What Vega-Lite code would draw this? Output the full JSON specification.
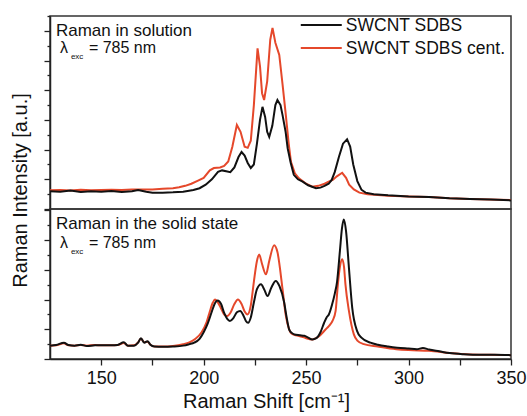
{
  "$schema": "https://vega.github.io/schema/vega-lite/v6.json",
  "padding": {"left": 9, "top": 14, "right": 3, "bottom": 2},
  "background": "white",
  "spacing": 0,
  "bounds": "flush",
  "config": {
    "font": "Liberation Sans",
    "view": {"stroke": "#333333", "strokeWidth": 1.5},
    "axis": {"grid": false, "domainColor": "#222222", "tickColor": "#222222", "domainWidth": 1.5, "tickWidth": 1.3, "labelColor": "#111111", "titleColor": "#111111", "labelFont": "Liberation Sans", "titleFont": "Liberation Sans", "titleFontWeight": "normal"},
    "text": {"font": "Liberation Sans", "color": "#111111", "align": "left", "baseline": "alphabetic"}
  },
  "datasets": {
    "top": [
      {"s":"SWCNT SDBS cent.","x":125,"y":0.63},{"s":"SWCNT SDBS cent.","x":130,"y":0.64},{"s":"SWCNT SDBS cent.","x":135,"y":0.62},{"s":"SWCNT SDBS cent.","x":140,"y":0.65},{"s":"SWCNT SDBS cent.","x":145,"y":0.63},{"s":"SWCNT SDBS cent.","x":150,"y":0.64},{"s":"SWCNT SDBS cent.","x":155,"y":0.65},{"s":"SWCNT SDBS cent.","x":160,"y":0.64},{"s":"SWCNT SDBS cent.","x":165,"y":0.66},{"s":"SWCNT SDBS cent.","x":170,"y":0.66},{"s":"SWCNT SDBS cent.","x":175,"y":0.66},{"s":"SWCNT SDBS cent.","x":180,"y":0.68},{"s":"SWCNT SDBS cent.","x":185,"y":0.7},{"s":"SWCNT SDBS cent.","x":188,"y":0.73},{"s":"SWCNT SDBS cent.","x":191,"y":0.78},{"s":"SWCNT SDBS cent.","x":194,"y":0.85},{"s":"SWCNT SDBS cent.","x":197,"y":0.95},{"s":"SWCNT SDBS cent.","x":200,"y":1.05},{"s":"SWCNT SDBS cent.","x":203,"y":1.3},{"s":"SWCNT SDBS cent.","x":205,"y":1.38},{"s":"SWCNT SDBS cent.","x":208,"y":1.4},{"s":"SWCNT SDBS cent.","x":210,"y":1.45},{"s":"SWCNT SDBS cent.","x":212,"y":1.6},{"s":"SWCNT SDBS cent.","x":214,"y":2.1},{"s":"SWCNT SDBS cent.","x":216.2,"y":2.83},{"s":"SWCNT SDBS cent.","x":218,"y":2.6},{"s":"SWCNT SDBS cent.","x":220,"y":2.1},{"s":"SWCNT SDBS cent.","x":221.5,"y":2.06},{"s":"SWCNT SDBS cent.","x":223,"y":2.3},{"s":"SWCNT SDBS cent.","x":224.5,"y":3.5},{"s":"SWCNT SDBS cent.","x":226.3,"y":5.41},{"s":"SWCNT SDBS cent.","x":227.5,"y":4.8},{"s":"SWCNT SDBS cent.","x":228.5,"y":3.9},{"s":"SWCNT SDBS cent.","x":229.5,"y":3.67},{"s":"SWCNT SDBS cent.","x":231,"y":4.3},{"s":"SWCNT SDBS cent.","x":232.5,"y":5.7},{"s":"SWCNT SDBS cent.","x":233.6,"y":6.1},{"s":"SWCNT SDBS cent.","x":235,"y":5.6},{"s":"SWCNT SDBS cent.","x":236.9,"y":5.19},{"s":"SWCNT SDBS cent.","x":238.5,"y":4.2},{"s":"SWCNT SDBS cent.","x":240.1,"y":3.16},{"s":"SWCNT SDBS cent.","x":241.5,"y":2.2},{"s":"SWCNT SDBS cent.","x":242.6,"y":1.59},{"s":"SWCNT SDBS cent.","x":244.5,"y":1.2},{"s":"SWCNT SDBS cent.","x":246.5,"y":1.03},{"s":"SWCNT SDBS cent.","x":250,"y":0.85},{"s":"SWCNT SDBS cent.","x":253,"y":0.75},{"s":"SWCNT SDBS cent.","x":256,"y":0.78},{"s":"SWCNT SDBS cent.","x":259,"y":0.85},{"s":"SWCNT SDBS cent.","x":261,"y":0.92},{"s":"SWCNT SDBS cent.","x":263,"y":0.98},{"s":"SWCNT SDBS cent.","x":265,"y":1.1},{"s":"SWCNT SDBS cent.","x":267.6,"y":1.22},{"s":"SWCNT SDBS cent.","x":269.5,"y":1.05},{"s":"SWCNT SDBS cent.","x":271,"y":0.82},{"s":"SWCNT SDBS cent.","x":273.3,"y":0.66},{"s":"SWCNT SDBS cent.","x":276,"y":0.55},{"s":"SWCNT SDBS cent.","x":280,"y":0.5},{"s":"SWCNT SDBS cent.","x":290,"y":0.45},{"s":"SWCNT SDBS cent.","x":300,"y":0.42},{"s":"SWCNT SDBS cent.","x":310,"y":0.4},{"s":"SWCNT SDBS cent.","x":320,"y":0.36},{"s":"SWCNT SDBS cent.","x":330,"y":0.34},{"s":"SWCNT SDBS cent.","x":340,"y":0.32},{"s":"SWCNT SDBS cent.","x":350,"y":0.3},
      {"s":"SWCNT SDBS","x":125,"y":0.6},{"s":"SWCNT SDBS","x":130,"y":0.58},{"s":"SWCNT SDBS","x":135,"y":0.62},{"s":"SWCNT SDBS","x":140,"y":0.57},{"s":"SWCNT SDBS","x":145,"y":0.6},{"s":"SWCNT SDBS","x":150,"y":0.58},{"s":"SWCNT SDBS","x":155,"y":0.61},{"s":"SWCNT SDBS","x":160,"y":0.57},{"s":"SWCNT SDBS","x":165,"y":0.6},{"s":"SWCNT SDBS","x":168,"y":0.64},{"s":"SWCNT SDBS","x":172,"y":0.58},{"s":"SWCNT SDBS","x":175,"y":0.55},{"s":"SWCNT SDBS","x":180,"y":0.55},{"s":"SWCNT SDBS","x":185,"y":0.56},{"s":"SWCNT SDBS","x":190,"y":0.58},{"s":"SWCNT SDBS","x":195,"y":0.64},{"s":"SWCNT SDBS","x":198,"y":0.7},{"s":"SWCNT SDBS","x":201,"y":0.82},{"s":"SWCNT SDBS","x":204,"y":1.0},{"s":"SWCNT SDBS","x":207,"y":1.25},{"s":"SWCNT SDBS","x":209,"y":1.3},{"s":"SWCNT SDBS","x":211,"y":1.27},{"s":"SWCNT SDBS","x":213,"y":1.24},{"s":"SWCNT SDBS","x":215,"y":1.4},{"s":"SWCNT SDBS","x":217,"y":1.75},{"s":"SWCNT SDBS","x":218.5,"y":1.92},{"s":"SWCNT SDBS","x":220,"y":1.8},{"s":"SWCNT SDBS","x":221.5,"y":1.55},{"s":"SWCNT SDBS","x":223,"y":1.38},{"s":"SWCNT SDBS","x":224.5,"y":1.5},{"s":"SWCNT SDBS","x":226,"y":2.2},{"s":"SWCNT SDBS","x":227.5,"y":3.0},{"s":"SWCNT SDBS","x":228.7,"y":3.44},{"s":"SWCNT SDBS","x":230,"y":3.1},{"s":"SWCNT SDBS","x":231,"y":2.6},{"s":"SWCNT SDBS","x":232,"y":2.43},{"s":"SWCNT SDBS","x":233.5,"y":2.8},{"s":"SWCNT SDBS","x":235,"y":3.5},{"s":"SWCNT SDBS","x":236,"y":3.67},{"s":"SWCNT SDBS","x":237.5,"y":3.5},{"s":"SWCNT SDBS","x":238.5,"y":3.16},{"s":"SWCNT SDBS","x":240,"y":2.6},{"s":"SWCNT SDBS","x":241,"y":2.04},{"s":"SWCNT SDBS","x":242.5,"y":1.55},{"s":"SWCNT SDBS","x":244,"y":1.15},{"s":"SWCNT SDBS","x":246,"y":1.0},{"s":"SWCNT SDBS","x":248.3,"y":0.92},{"s":"SWCNT SDBS","x":251,"y":0.8},{"s":"SWCNT SDBS","x":254.8,"y":0.7},{"s":"SWCNT SDBS","x":257,"y":0.72},{"s":"SWCNT SDBS","x":259,"y":0.78},{"s":"SWCNT SDBS","x":261,"y":0.85},{"s":"SWCNT SDBS","x":262.5,"y":0.98},{"s":"SWCNT SDBS","x":264,"y":1.25},{"s":"SWCNT SDBS","x":266,"y":1.75},{"s":"SWCNT SDBS","x":268,"y":2.2},{"s":"SWCNT SDBS","x":270,"y":2.35},{"s":"SWCNT SDBS","x":271.5,"y":2.1},{"s":"SWCNT SDBS","x":273,"y":1.5},{"s":"SWCNT SDBS","x":275,"y":0.94},{"s":"SWCNT SDBS","x":277,"y":0.65},{"s":"SWCNT SDBS","x":279,"y":0.55},{"s":"SWCNT SDBS","x":283,"y":0.5},{"s":"SWCNT SDBS","x":290,"y":0.46},{"s":"SWCNT SDBS","x":300,"y":0.42},{"s":"SWCNT SDBS","x":310,"y":0.4},{"s":"SWCNT SDBS","x":320,"y":0.36},{"s":"SWCNT SDBS","x":330,"y":0.34},{"s":"SWCNT SDBS","x":340,"y":0.32},{"s":"SWCNT SDBS","x":350,"y":0.29}
    ],
    "bottom": [
      {"s":"SWCNT SDBS cent.","x":125,"y":0.45},{"s":"SWCNT SDBS cent.","x":128,"y":0.46},{"s":"SWCNT SDBS cent.","x":131.8,"y":0.53},{"s":"SWCNT SDBS cent.","x":134,"y":0.46},{"s":"SWCNT SDBS cent.","x":137,"y":0.45},{"s":"SWCNT SDBS cent.","x":140,"y":0.47},{"s":"SWCNT SDBS cent.","x":143,"y":0.45},{"s":"SWCNT SDBS cent.","x":147,"y":0.47},{"s":"SWCNT SDBS cent.","x":150,"y":0.46},{"s":"SWCNT SDBS cent.","x":155,"y":0.46},{"s":"SWCNT SDBS cent.","x":158,"y":0.47},{"s":"SWCNT SDBS cent.","x":161,"y":0.54},{"s":"SWCNT SDBS cent.","x":163,"y":0.45},{"s":"SWCNT SDBS cent.","x":166,"y":0.46},{"s":"SWCNT SDBS cent.","x":168,"y":0.56},{"s":"SWCNT SDBS cent.","x":169.4,"y":0.68},{"s":"SWCNT SDBS cent.","x":171,"y":0.56},{"s":"SWCNT SDBS cent.","x":172.6,"y":0.58},{"s":"SWCNT SDBS cent.","x":174,"y":0.48},{"s":"SWCNT SDBS cent.","x":176,"y":0.42},{"s":"SWCNT SDBS cent.","x":180,"y":0.42},{"s":"SWCNT SDBS cent.","x":185,"y":0.44},{"s":"SWCNT SDBS cent.","x":190,"y":0.5},{"s":"SWCNT SDBS cent.","x":193,"y":0.56},{"s":"SWCNT SDBS cent.","x":196,"y":0.68},{"s":"SWCNT SDBS cent.","x":199,"y":0.9},{"s":"SWCNT SDBS cent.","x":201.5,"y":1.25},{"s":"SWCNT SDBS cent.","x":203,"y":1.6},{"s":"SWCNT SDBS cent.","x":204.5,"y":1.9},{"s":"SWCNT SDBS cent.","x":205.5,"y":2.0},{"s":"SWCNT SDBS cent.","x":207,"y":1.9},{"s":"SWCNT SDBS cent.","x":208.5,"y":1.7},{"s":"SWCNT SDBS cent.","x":210,"y":1.5},{"s":"SWCNT SDBS cent.","x":211.5,"y":1.45},{"s":"SWCNT SDBS cent.","x":213,"y":1.55},{"s":"SWCNT SDBS cent.","x":215,"y":1.85},{"s":"SWCNT SDBS cent.","x":216.7,"y":2.0},{"s":"SWCNT SDBS cent.","x":218.5,"y":1.85},{"s":"SWCNT SDBS cent.","x":220,"y":1.6},{"s":"SWCNT SDBS cent.","x":221.4,"y":1.5},{"s":"SWCNT SDBS cent.","x":223,"y":1.8},{"s":"SWCNT SDBS cent.","x":224.5,"y":2.6},{"s":"SWCNT SDBS cent.","x":226,"y":3.3},{"s":"SWCNT SDBS cent.","x":227.1,"y":3.52},{"s":"SWCNT SDBS cent.","x":228.5,"y":3.2},{"s":"SWCNT SDBS cent.","x":230.4,"y":2.85},{"s":"SWCNT SDBS cent.","x":232,"y":3.3},{"s":"SWCNT SDBS cent.","x":234.4,"y":3.83},{"s":"SWCNT SDBS cent.","x":236,"y":3.6},{"s":"SWCNT SDBS cent.","x":238.5,"y":2.35},{"s":"SWCNT SDBS cent.","x":240,"y":1.5},{"s":"SWCNT SDBS cent.","x":241.7,"y":1.0},{"s":"SWCNT SDBS cent.","x":243,"y":0.85},{"s":"SWCNT SDBS cent.","x":245,"y":0.8},{"s":"SWCNT SDBS cent.","x":248,"y":0.75},{"s":"SWCNT SDBS cent.","x":250,"y":0.7},{"s":"SWCNT SDBS cent.","x":253.1,"y":0.66},{"s":"SWCNT SDBS cent.","x":256,"y":0.75},{"s":"SWCNT SDBS cent.","x":259.6,"y":1.0},{"s":"SWCNT SDBS cent.","x":261,"y":1.1},{"s":"SWCNT SDBS cent.","x":263,"y":1.3},{"s":"SWCNT SDBS cent.","x":264.4,"y":1.62},{"s":"SWCNT SDBS cent.","x":265.5,"y":2.51},{"s":"SWCNT SDBS cent.","x":266.5,"y":3.1},{"s":"SWCNT SDBS cent.","x":267.6,"y":3.36},{"s":"SWCNT SDBS cent.","x":268.5,"y":3.1},{"s":"SWCNT SDBS cent.","x":269.2,"y":2.51},{"s":"SWCNT SDBS cent.","x":270.9,"y":1.62},{"s":"SWCNT SDBS cent.","x":273.3,"y":0.83},{"s":"SWCNT SDBS cent.","x":275,"y":0.62},{"s":"SWCNT SDBS cent.","x":278.2,"y":0.5},{"s":"SWCNT SDBS cent.","x":285,"y":0.42},{"s":"SWCNT SDBS cent.","x":294,"y":0.33},{"s":"SWCNT SDBS cent.","x":300,"y":0.3},{"s":"SWCNT SDBS cent.","x":310,"y":0.28},{"s":"SWCNT SDBS cent.","x":320,"y":0.2},{"s":"SWCNT SDBS cent.","x":330,"y":0.15},{"s":"SWCNT SDBS cent.","x":340,"y":0.14},{"s":"SWCNT SDBS cent.","x":350,"y":0.13},
      {"s":"SWCNT SDBS","x":125,"y":0.45},{"s":"SWCNT SDBS","x":128,"y":0.47},{"s":"SWCNT SDBS","x":131.8,"y":0.55},{"s":"SWCNT SDBS","x":134,"y":0.47},{"s":"SWCNT SDBS","x":137,"y":0.45},{"s":"SWCNT SDBS","x":140,"y":0.48},{"s":"SWCNT SDBS","x":143,"y":0.44},{"s":"SWCNT SDBS","x":147,"y":0.46},{"s":"SWCNT SDBS","x":150,"y":0.46},{"s":"SWCNT SDBS","x":155,"y":0.46},{"s":"SWCNT SDBS","x":158,"y":0.47},{"s":"SWCNT SDBS","x":161,"y":0.56},{"s":"SWCNT SDBS","x":163,"y":0.45},{"s":"SWCNT SDBS","x":166,"y":0.45},{"s":"SWCNT SDBS","x":168,"y":0.55},{"s":"SWCNT SDBS","x":169.4,"y":0.7},{"s":"SWCNT SDBS","x":171,"y":0.55},{"s":"SWCNT SDBS","x":172.6,"y":0.6},{"s":"SWCNT SDBS","x":174,"y":0.48},{"s":"SWCNT SDBS","x":176,"y":0.42},{"s":"SWCNT SDBS","x":180,"y":0.41},{"s":"SWCNT SDBS","x":185,"y":0.42},{"s":"SWCNT SDBS","x":190,"y":0.45},{"s":"SWCNT SDBS","x":193,"y":0.5},{"s":"SWCNT SDBS","x":195.4,"y":0.55},{"s":"SWCNT SDBS","x":198,"y":0.68},{"s":"SWCNT SDBS","x":200,"y":0.9},{"s":"SWCNT SDBS","x":202,"y":1.2},{"s":"SWCNT SDBS","x":204,"y":1.6},{"s":"SWCNT SDBS","x":205.5,"y":1.88},{"s":"SWCNT SDBS","x":206.8,"y":1.97},{"s":"SWCNT SDBS","x":208.5,"y":1.85},{"s":"SWCNT SDBS","x":210,"y":1.55},{"s":"SWCNT SDBS","x":211.5,"y":1.35},{"s":"SWCNT SDBS","x":212.8,"y":1.28},{"s":"SWCNT SDBS","x":214.5,"y":1.38},{"s":"SWCNT SDBS","x":216.2,"y":1.57},{"s":"SWCNT SDBS","x":217.8,"y":1.62},{"s":"SWCNT SDBS","x":219.5,"y":1.45},{"s":"SWCNT SDBS","x":220.6,"y":1.28},{"s":"SWCNT SDBS","x":221.7,"y":1.22},{"s":"SWCNT SDBS","x":223,"y":1.4},{"s":"SWCNT SDBS","x":224.5,"y":1.9},{"s":"SWCNT SDBS","x":226,"y":2.35},{"s":"SWCNT SDBS","x":228,"y":2.52},{"s":"SWCNT SDBS","x":229.5,"y":2.35},{"s":"SWCNT SDBS","x":231.2,"y":2.12},{"s":"SWCNT SDBS","x":233,"y":2.4},{"s":"SWCNT SDBS","x":235.2,"y":2.63},{"s":"SWCNT SDBS","x":237,"y":2.45},{"s":"SWCNT SDBS","x":239.3,"y":1.9},{"s":"SWCNT SDBS","x":240.5,"y":1.4},{"s":"SWCNT SDBS","x":241.7,"y":1.0},{"s":"SWCNT SDBS","x":243,"y":0.88},{"s":"SWCNT SDBS","x":244.2,"y":0.83},{"s":"SWCNT SDBS","x":247,"y":0.8},{"s":"SWCNT SDBS","x":249.1,"y":0.78},{"s":"SWCNT SDBS","x":251,"y":0.72},{"s":"SWCNT SDBS","x":253,"y":0.66},{"s":"SWCNT SDBS","x":255,"y":0.7},{"s":"SWCNT SDBS","x":257,"y":0.9},{"s":"SWCNT SDBS","x":258.8,"y":1.22},{"s":"SWCNT SDBS","x":260,"y":1.4},{"s":"SWCNT SDBS","x":261.1,"y":1.5},{"s":"SWCNT SDBS","x":262.7,"y":1.84},{"s":"SWCNT SDBS","x":264,"y":2.2},{"s":"SWCNT SDBS","x":265.1,"y":2.6},{"s":"SWCNT SDBS","x":266.5,"y":3.64},{"s":"SWCNT SDBS","x":267.5,"y":4.4},{"s":"SWCNT SDBS","x":268.4,"y":4.7},{"s":"SWCNT SDBS","x":269.5,"y":4.3},{"s":"SWCNT SDBS","x":270.9,"y":3.07},{"s":"SWCNT SDBS","x":272.5,"y":1.73},{"s":"SWCNT SDBS","x":274.9,"y":0.94},{"s":"SWCNT SDBS","x":277,"y":0.72},{"s":"SWCNT SDBS","x":281.4,"y":0.55},{"s":"SWCNT SDBS","x":285,"y":0.48},{"s":"SWCNT SDBS","x":290,"y":0.42},{"s":"SWCNT SDBS","x":294.4,"y":0.38},{"s":"SWCNT SDBS","x":300,"y":0.35},{"s":"SWCNT SDBS","x":304,"y":0.33},{"s":"SWCNT SDBS","x":307,"y":0.37},{"s":"SWCNT SDBS","x":310,"y":0.32},{"s":"SWCNT SDBS","x":315,"y":0.26},{"s":"SWCNT SDBS","x":320,"y":0.2},{"s":"SWCNT SDBS","x":327,"y":0.16},{"s":"SWCNT SDBS","x":335,"y":0.14},{"s":"SWCNT SDBS","x":342,"y":0.14},{"s":"SWCNT SDBS","x":350,"y":0.13}
    ]
  },
  "vconcat": [
    {
      "width": 461,
      "height": 193,
      "layer": [
        {
          "data": {"name": "top"},
          "mark": {"type": "line", "strokeWidth": 2, "clip": true},
          "encoding": {
            "x": {"field": "x", "type": "quantitative", "scale": {"domain": [125, 350], "nice": false, "zero": false}, "axis": null},
            "y": {"field": "y", "type": "quantitative", "scale": {"domain": [0, 6.5], "nice": false, "zero": false},
              "axis": {"values": [0, 0.5, 1, 1.5, 2, 2.5, 3, 3.5, 4, 4.5, 5, 5.5, 6, 6.5], "tickCount": 40, "labels": false,
                "tickSize": {"condition": {"test": "datum.value % 1 === 0", "value": 6}, "value": 3},
                "title": "Raman Intensity [a.u.]", "titleFontSize": 20, "titleX": -20, "titleY": 174, "titleAngle": -90, "titleAlign": "center", "titleBaseline": "bottom"}},
            "color": {"field": "s", "type": "nominal", "scale": {"domain": ["SWCNT SDBS", "SWCNT SDBS cent."], "range": ["#111111", "#e5482b"]}, "legend": null}
          }
        },
        {"data": {"values": [{"t": "Raman in solution"}]}, "mark": {"type": "text", "fontSize": 17}, "encoding": {"text": {"field": "t"}, "x": {"datum": 127.9}, "y": {"datum": 5.82}}},
        {"data": {"values": [{"t": "λ"}]}, "mark": {"type": "text", "fontSize": 16}, "encoding": {"text": {"field": "t"}, "x": {"datum": 129.9}, "y": {"datum": 5.25}}},
        {"data": {"values": [{"t": "exc"}]}, "mark": {"type": "text", "fontSize": 8}, "encoding": {"text": {"field": "t"}, "x": {"datum": 135.2}, "y": {"datum": 5.05}}},
        {"data": {"values": [{"t": "= 785 nm"}]}, "mark": {"type": "text", "fontSize": 16}, "encoding": {"text": {"field": "t"}, "x": {"datum": 144}, "y": {"datum": 5.25}}},
        {"data": {"values": [{"s": "SWCNT SDBS"}]}, "mark": {"type": "rule", "strokeWidth": 2}, "encoding": {"x": {"datum": 247.4}, "x2": {"datum": 267.4}, "y": {"datum": 6.2}, "color": {"field": "s", "type": "nominal", "legend": null}}},
        {"data": {"values": [{"s": "SWCNT SDBS cent."}]}, "mark": {"type": "rule", "strokeWidth": 2}, "encoding": {"x": {"datum": 247.4}, "x2": {"datum": 267.4}, "y": {"datum": 5.42}, "color": {"field": "s", "type": "nominal", "legend": null}}},
        {"data": {"values": [{"s": "SWCNT SDBS"}]}, "mark": {"type": "text", "fontSize": 17.5}, "encoding": {"text": {"field": "s"}, "x": {"datum": 269.4}, "y": {"datum": 5.99}}},
        {"data": {"values": [{"s": "SWCNT SDBS cent."}]}, "mark": {"type": "text", "fontSize": 17.5}, "encoding": {"text": {"field": "s"}, "x": {"datum": 269.4}, "y": {"datum": 5.21}}}
      ]
    },
    {
      "width": 461,
      "height": 150,
      "layer": [
        {
          "data": {"name": "bottom"},
          "mark": {"type": "line", "strokeWidth": 2, "clip": true, "interpolate": "monotone"},
          "encoding": {
            "x": {"field": "x", "type": "quantitative", "scale": {"domain": [125, 350], "nice": false, "zero": false},
              "axis": {"values": [150, 175, 200, 225, 250, 275, 300, 325, 350], "tickCount": 40, "labelExpr": "datum.value % 50 === 0 ? datum.label : ''", "tickSize": 6, "labelFontSize": 18, "labelPadding": 4, "labelFlush": false, "title": "Raman Shift [cm⁻¹]", "titleFontSize": 20, "titleX": 216, "titlePadding": 4}},
            "y": {"field": "y", "type": "quantitative", "scale": {"domain": [0, 5.05], "nice": false, "zero": false},
              "axis": {"values": [0, 0.5, 1, 1.5, 2, 2.5, 3, 3.5, 4, 4.5, 5], "tickCount": 40, "labels": false,
                "tickSize": {"condition": {"test": "datum.value % 1 === 0", "value": 6}, "value": 3}, "title": null}},
            "color": {"field": "s", "type": "nominal", "scale": {"domain": ["SWCNT SDBS", "SWCNT SDBS cent."], "range": ["#111111", "#e5482b"]}, "legend": null}
          }
        },
        {"data": {"values": [{"t": "Raman in the solid state"}]}, "mark": {"type": "text", "fontSize": 17}, "encoding": {"text": {"field": "t"}, "x": {"datum": 127.9}, "y": {"datum": 4.38}}},
        {"data": {"values": [{"t": "λ"}]}, "mark": {"type": "text", "fontSize": 16}, "encoding": {"text": {"field": "t"}, "x": {"datum": 129.9}, "y": {"datum": 3.75}}},
        {"data": {"values": [{"t": "exc"}]}, "mark": {"type": "text", "fontSize": 8}, "encoding": {"text": {"field": "t"}, "x": {"datum": 135.2}, "y": {"datum": 3.52}}},
        {"data": {"values": [{"t": "= 785 nm"}]}, "mark": {"type": "text", "fontSize": 16}, "encoding": {"text": {"field": "t"}, "x": {"datum": 144}, "y": {"datum": 3.75}}}
      ]
    }
  ]
}
